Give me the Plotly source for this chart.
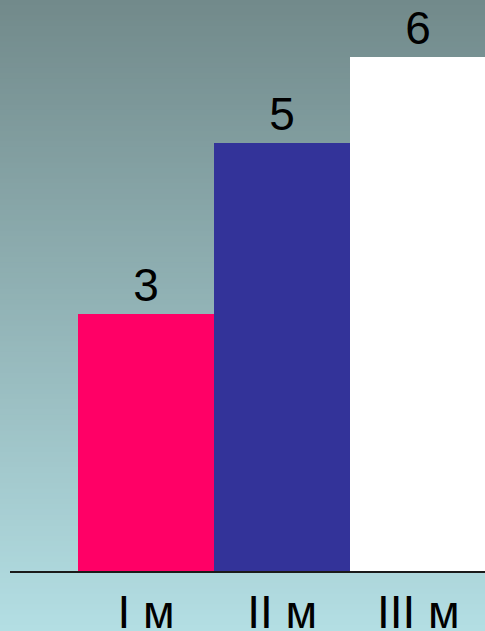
import plotly.graph_objects as go

# Chart data
categories = ["I м", "II м", "III м"]
values = [3, 5, 6]
bar_colors = ["#FF0066", "#333399", "#FFFFFF"]

# Vertical background gradient (top -> bottom)
grad_top = (0x72, 0x8A, 0x8B)
grad_bottom = (0xB3, 0xDE, 0xE3)

W, H = 485, 631
fig = go.Figure()

fig.add_trace(go.Bar(
    x=categories,
    y=values,
    marker=dict(color=bar_colors, line=dict(width=0)),
    text=[str(v) for v in values],
    textposition="outside",
    textfont=dict(family="Liberation Sans, Arial, sans-serif", size=46, color="#000000"),
    cliponaxis=False,
    hoverinfo="skip",
))

# Gradient as stacked thin rectangles across the whole page
n = 120
top_paper = 1.0
bottom_paper = -60 / 571
shapes = []
for i in range(n):
    t = i / (n - 1)
    r = round(grad_top[0] + (grad_bottom[0] - grad_top[0]) * t)
    g = round(grad_top[1] + (grad_bottom[1] - grad_top[1]) * t)
    b = round(grad_top[2] + (grad_bottom[2] - grad_top[2]) * t)
    y1 = top_paper + (bottom_paper - top_paper) * i / n
    y0 = top_paper + (bottom_paper - top_paper) * (i + 1) / n
    shapes.append(dict(
        type="rect", xref="paper", yref="paper",
        x0=-0.05, x1=1.05, y0=y0 - 0.001, y1=y1 + 0.001,
        fillcolor=f"rgb({r},{g},{b})", line=dict(width=0), layer="below",
    ))

fig.update_layout(
    width=W, height=H,
    margin=dict(l=10, r=0, t=0, b=60, autoexpand=False),
    paper_bgcolor="rgb(179,222,227)",
    plot_bgcolor="rgba(0,0,0,0)",
    bargap=0,
    showlegend=False,
    shapes=shapes,
    xaxis=dict(
        range=[-1, 2.49],
        automargin=False,
        showgrid=False, zeroline=False,
        showline=True, linecolor="#1a1a1a", linewidth=2,
        ticks="",
        tickfont=dict(family="Liberation Sans, Arial, sans-serif", size=46, color="#000000"),
        ticklabelstandoff=0,
    ),
    yaxis=dict(
        range=[0, 571 / 85.7],
        automargin=False,
        visible=False,
        showgrid=False, zeroline=False,
    ),
)

fig.write_html("out.html")
